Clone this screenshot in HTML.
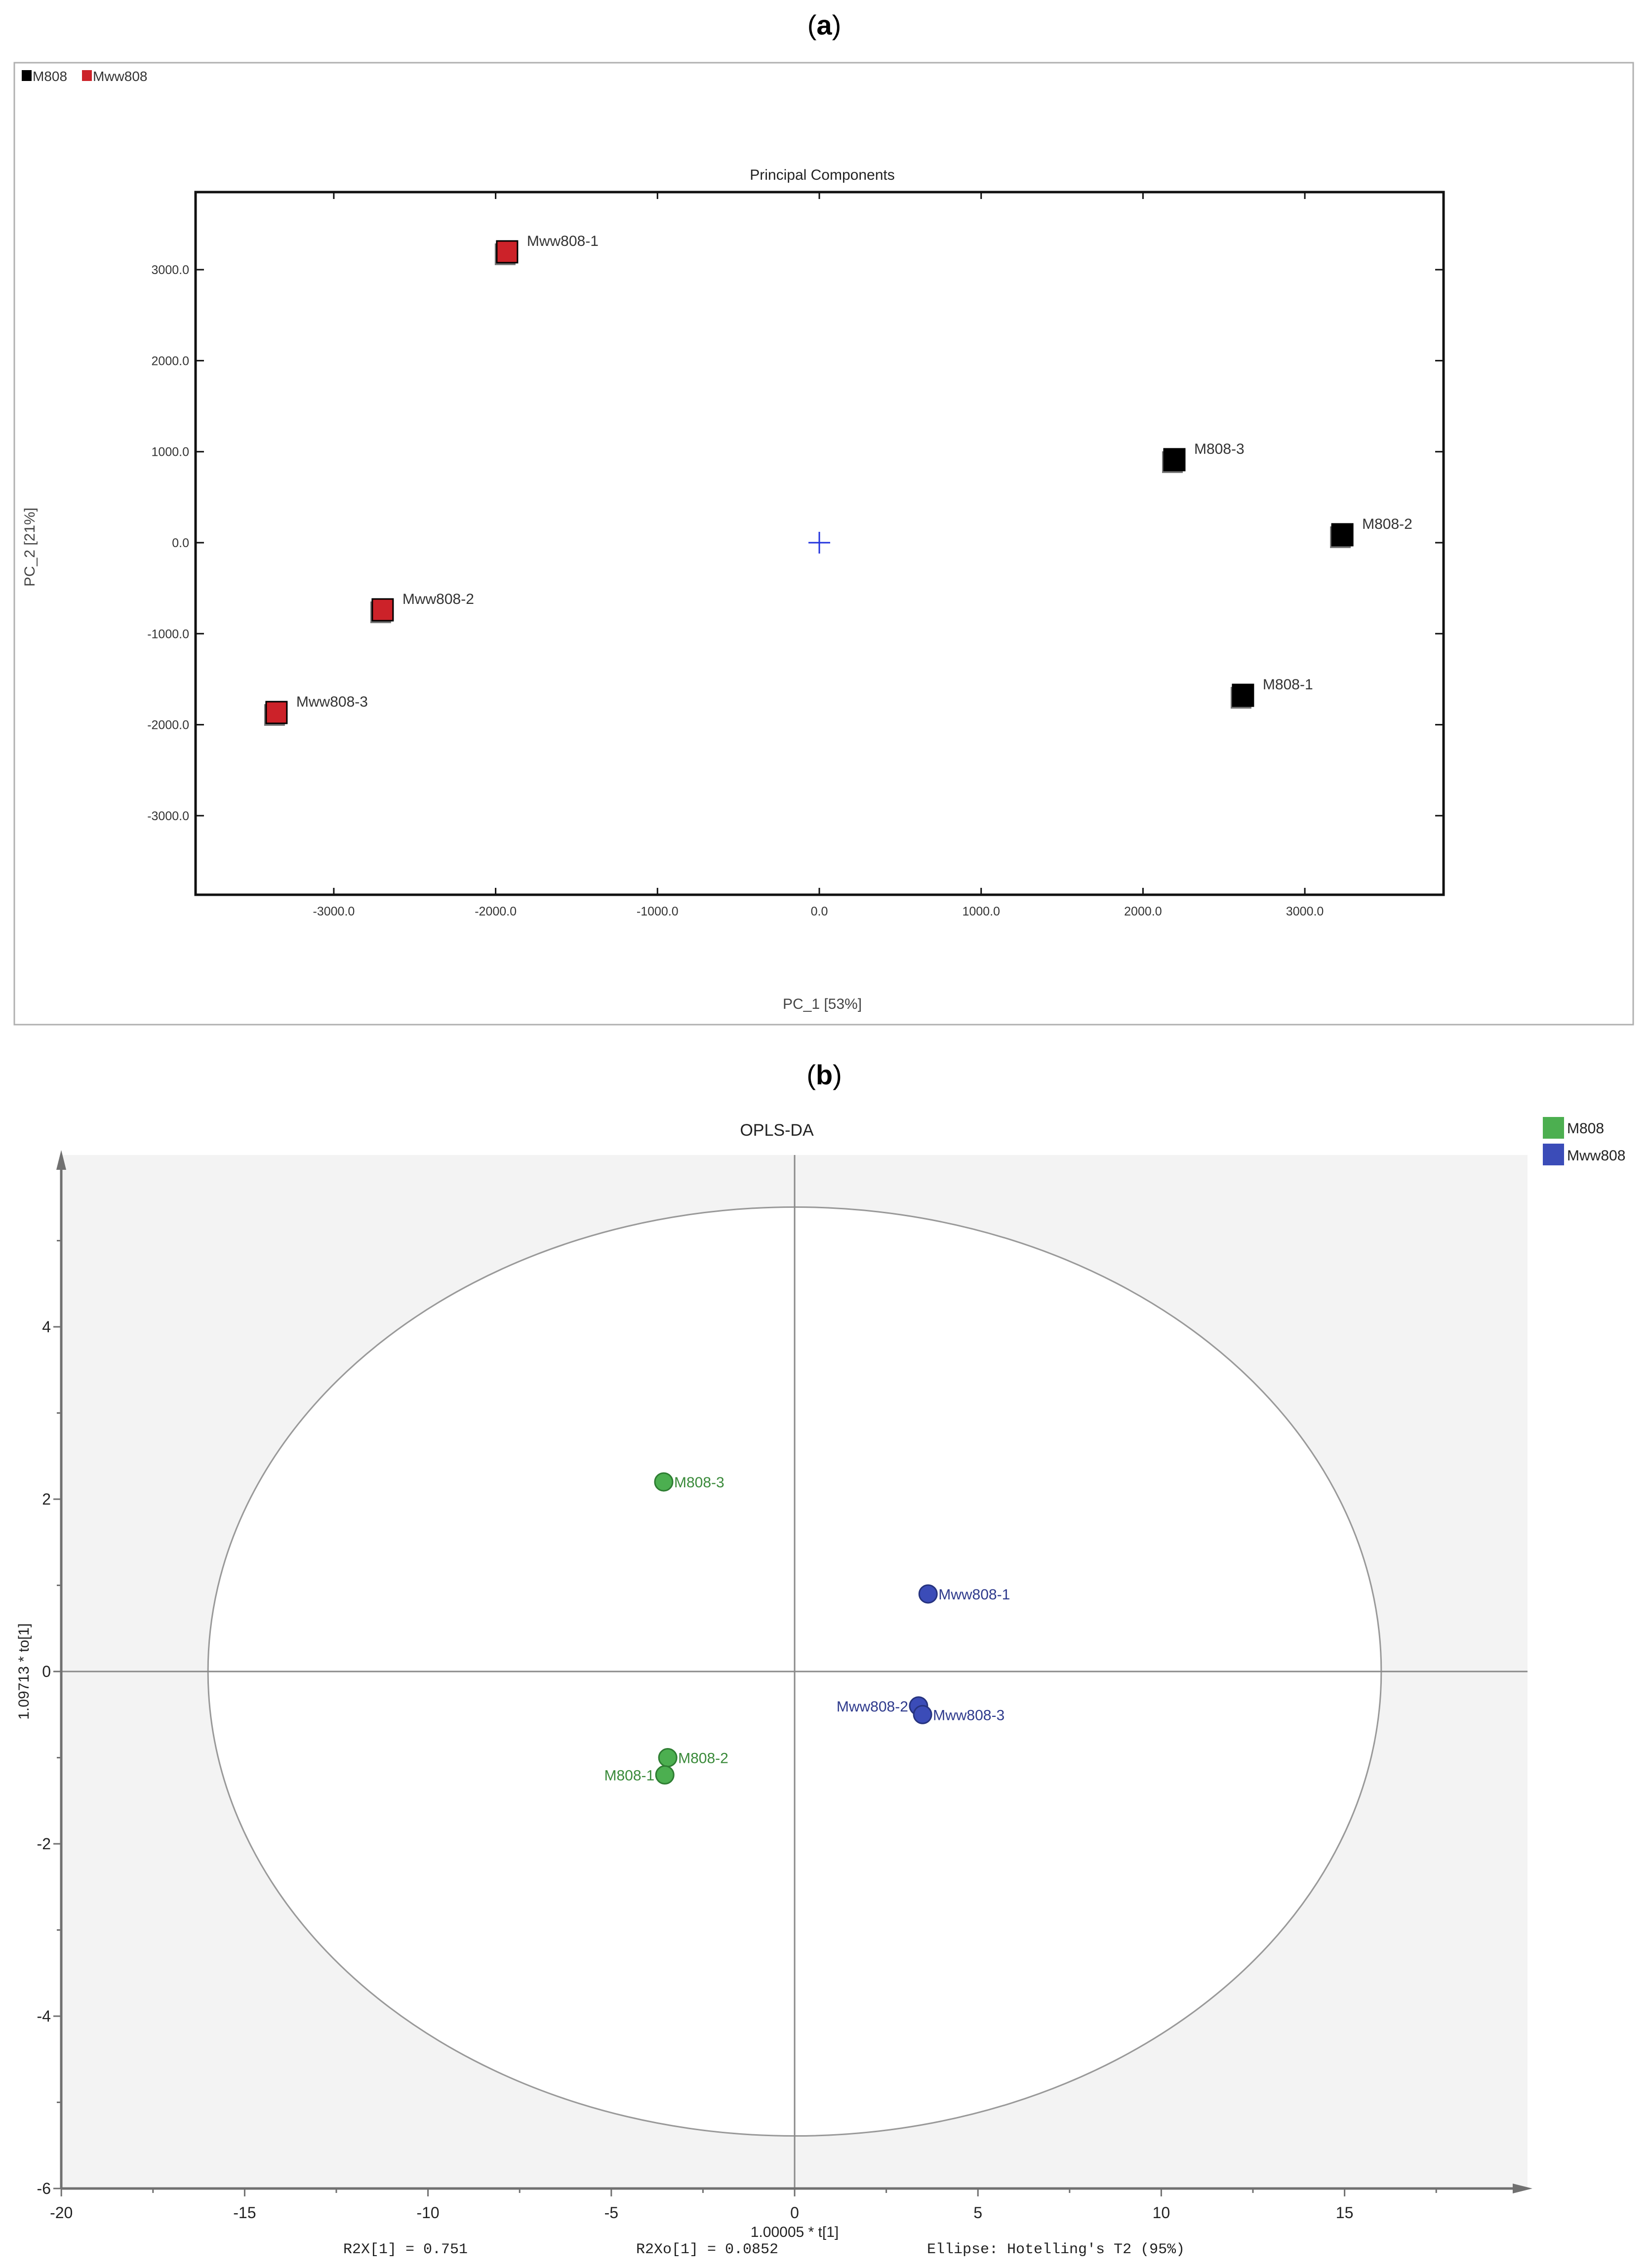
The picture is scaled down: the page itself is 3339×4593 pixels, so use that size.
<!DOCTYPE html>
<html><head><meta charset="utf-8"><style>
html,body{margin:0;padding:0;background:#fff;}
svg{display:block;}
text{font-family:"Liberation Sans",sans-serif;}
</style></head><body>
<svg id="root" xmlns="http://www.w3.org/2000/svg" width="3339" height="4593" viewBox="0 0 3339 4593">
  <text x="1669" y="70" text-anchor="middle" font-family="Liberation Serif, serif" font-size="56">(<tspan font-weight="bold">a</tspan>)</text>
  <rect x="29" y="127" width="3278" height="1948" fill="#fff" stroke="#b0b0b0" stroke-width="3"/>
  <g>
    <rect x="44" y="142" width="20" height="22" fill="#000"/>
    <text x="66" y="164" font-size="28" fill="#333">M808</text>
    <rect x="166" y="142" width="20" height="22" fill="#cc2229"/>
    <text x="188" y="164" font-size="28" fill="#333">Mww808</text>
  </g>
  <text x="1665" y="364" text-anchor="middle" font-size="30" fill="#222">Principal Components</text>
  <g id="pca"></g>
  <text x="1665" y="2043" text-anchor="middle" font-size="30" fill="#444">PC_1 [53%]</text>
  <text transform="translate(70,1108) rotate(-90)" text-anchor="middle" font-size="30" fill="#444">PC_2 [21%]</text>

  <text x="1669" y="2196" text-anchor="middle" font-family="Liberation Serif, serif" font-size="56">(<tspan font-weight="bold">b</tspan>)</text>
  <text x="1573" y="2300" text-anchor="middle" font-size="34" fill="#222">OPLS-DA</text>
  <g>
    <rect x="3124" y="2262" width="43" height="44" fill="#4caf50"/>
    <text x="3173" y="2295" font-size="30" fill="#222">M808</text>
    <rect x="3124" y="2316" width="43" height="44" fill="#3b4cb8"/>
    <text x="3173" y="2350" font-size="30" fill="#222">Mww808</text>
  </g>
  <g id="opls"></g>
  <text x="1609" y="4530" text-anchor="middle" font-size="30" fill="#222">1.00005 * t[1]</text>
  <text transform="translate(58,3385) rotate(-90)" text-anchor="middle" font-size="30" fill="#222">1.09713 * to[1]</text>
  <g font-family="Liberation Mono, monospace" font-size="30" fill="#222">
    <text x="695" y="4563" style="font-family:'Liberation Mono',monospace">R2X[1] = 0.751</text>
    <text x="1288" y="4563" style="font-family:'Liberation Mono',monospace">R2Xo[1] = 0.0852</text>
    <text x="1877" y="4563" style="font-family:'Liberation Mono',monospace">Ellipse: Hotelling's T2 (95%)</text>
  </g>
</svg>
<script>
// ---- PCA data ----
const pcaLabels = ["Mww808-1","Mww808-2","Mww808-3","M808-3","M808-2","M808-1"];
const pcaGroups = ["Mww808","Mww808","Mww808","M808","M808","M808"];
const pcaX = [-1929,-2698,-3354,2194,3232,2618];
const pcaY = [3196,-738,-1866,912,87,-1677];
const pcaXTicks = [-3000,-2000,-1000,0,1000,2000,3000];
const pcaYTicks = [3000,2000,1000,0,-1000,-2000,-3000];
const pcaXTickLabels = ["-3000.0","-2000.0","-1000.0","0.0","1000.0","2000.0","3000.0"];
const pcaYTickLabels = ["3000.0","2000.0","1000.0","0.0","-1000.0","-2000.0","-3000.0"];
// ---- OPLS data ----
const oplsLabels = ["M808-3","M808-2","M808-1","Mww808-1","Mww808-2","Mww808-3"];
const oplsGroups = ["M808","M808","M808","Mww808","Mww808","Mww808"];
const oplsX = [-3.57,-3.46,-3.54,3.64,3.38,3.49];
const oplsY = [2.2,-1.0,-1.2,0.9,-0.4,-0.5];
const oplsXTicks = [-20,-15,-10,-5,0,5,10,15];
const oplsYTicks = [-6,-4,-2,0,2,4];
const ellipseRadii = [16.0,5.39];

const NS="http://www.w3.org/2000/svg";
function mk(parent,tag,attrs,txt){const e=document.createElementNS(NS,tag);for(const k in attrs)e.setAttribute(k,attrs[k]);if(txt!==undefined)e.textContent=txt;parent.appendChild(e);return e;}

// PCA axes
const px=v=>1659+v*0.3277, py=v=>1099-v*0.1843;
const L=396,R=2923,T=389,B=1812;
const pca=document.getElementById('pca');
let e=mk(pca,'rect',{x:L,y:T,width:R-L,height:B-T,fill:'#fff',stroke:'#111','stroke-width':5});


pcaXTicks.forEach((v,i)=>{
  const x=px(v);
  let t=mk(pca,'line',{x1:x,y1:B,x2:x,y2:B-14,stroke:'#111','stroke-width':3});
  
  
  t=mk(pca,'line',{x1:x,y1:T,x2:x,y2:T+14,stroke:'#111','stroke-width':3});
  
  
  t=mk(pca,'text',{x:x,y:B+42,'text-anchor':'middle','font-size':25,fill:'#333'},pcaXTickLabels[i]);
  
  
});
pcaYTicks.forEach((v,i)=>{
  const y=py(v);
  let t=mk(pca,'line',{x1:L,y1:y,x2:L+17,y2:y,stroke:'#111','stroke-width':3});
  
  
  t=mk(pca,'line',{x1:R,y1:y,x2:R-17,y2:y,stroke:'#111','stroke-width':3});
  
  
  t=mk(pca,'text',{x:383,y:y+9,'text-anchor':'end','font-size':25,fill:'#333'},pcaYTickLabels[i]);
  
  
});
e=mk(pca,'path',{d:`M${px(0)-22},${py(0)}H${px(0)+22}M${px(0)},${py(0)-22}V${py(0)+22}`,stroke:'#2233dd','stroke-width':3,fill:'none'});


pcaLabels.forEach((lab,i)=>{
  const cx=px(pcaX[i]), cy=py(pcaY[i]);
  const red=pcaGroups[i]==='Mww808';
  const g=mk(pca,'g',{});
  
  
  mk(g,'rect',{x:cx-21-4,y:cy-22+5,width:42,height:44,fill:'#777'});
  mk(g,'rect',{x:cx-21,y:cy-22,width:42,height:44,fill:red?'#cc2229':'#000',stroke:'#000','stroke-width':3});
  const t=mk(pca,'text',{x:cx+40,y:cy-12,'font-size':30,fill:'#333'},lab);
  
  
});

// OPLS
const ox=v=>1609+v*74.24, oy=v=>3385-v*174.5;
const oL=124,oR=3093,oT=2339,oB=4432;
const op=document.getElementById('opls');
e=mk(op,'rect',{x:oL,y:oT,width:oR-oL,height:oB-oT,fill:'#f3f3f3'});


e=mk(op,'ellipse',{cx:ox(0),cy:oy(0),rx:ellipseRadii[0]*74.24,ry:ellipseRadii[1]*174.5,fill:'#fff',stroke:'#999','stroke-width':3});


e=mk(op,'line',{x1:oL,y1:oy(0),x2:oR,y2:oy(0),stroke:'#8a8a8a','stroke-width':3});


e=mk(op,'line',{x1:ox(0),y1:oT,x2:ox(0),y2:oB,stroke:'#8a8a8a','stroke-width':3});


e=mk(op,'path',{d:`M${oL},${oB}H${oR-10}M${oL},${oB}V${oT+10}`,stroke:'#707070','stroke-width':5,fill:'none'});


e=mk(op,'path',{d:`M${oR+10},${oB}l-40,-10v20z M${oL},${oT-10}l-10,40h20z`,fill:'#707070'});


for(let v=-20;v<=17.5;v+=2.5){
  const major=oplsXTicks.includes(v);
  const t=mk(op,'line',{x1:ox(v),y1:oB,x2:ox(v),y2:oB+(major?16:9),stroke:'#707070','stroke-width':3});
  
  
}
oplsXTicks.forEach(v=>{
  const t=mk(op,'text',{x:ox(v),y:4492,'text-anchor':'middle','font-size':32,fill:'#222'},String(v));
  
  
});
for(let v=-6;v<=5;v+=1){
  const major=oplsYTicks.includes(v);
  const t=mk(op,'line',{x1:oL,y1:oy(v),x2:oL-(major?16:9),y2:oy(v),stroke:'#707070','stroke-width':3});
  
  
}
oplsYTicks.forEach(v=>{
  const t=mk(op,'text',{x:103,y:oy(v)+11,'text-anchor':'end','font-size':32,fill:'#222'},String(v));
  
  
});
const leftLabel={"M808-1":true,"Mww808-2":true};
oplsLabels.forEach((lab,i)=>{
  const cx=ox(oplsX[i]), cy=oy(oplsY[i]);
  const green=oplsGroups[i]==='M808';
  const c=mk(op,'circle',{cx:cx,cy:cy,r:18,fill:green?'#4caf50':'#3b4cb8',stroke:green?'#2e7d32':'#26337f','stroke-width':3});
  
  
  const left=leftLabel[lab];
  const t=mk(op,'text',{x:left?cx-21:cx+21,y:cy+11,'text-anchor':left?'end':'start','font-size':30,fill:green?'#3a8a3a':'#2e3a8c'},lab);
  
  
});
</script>
</body></html>
